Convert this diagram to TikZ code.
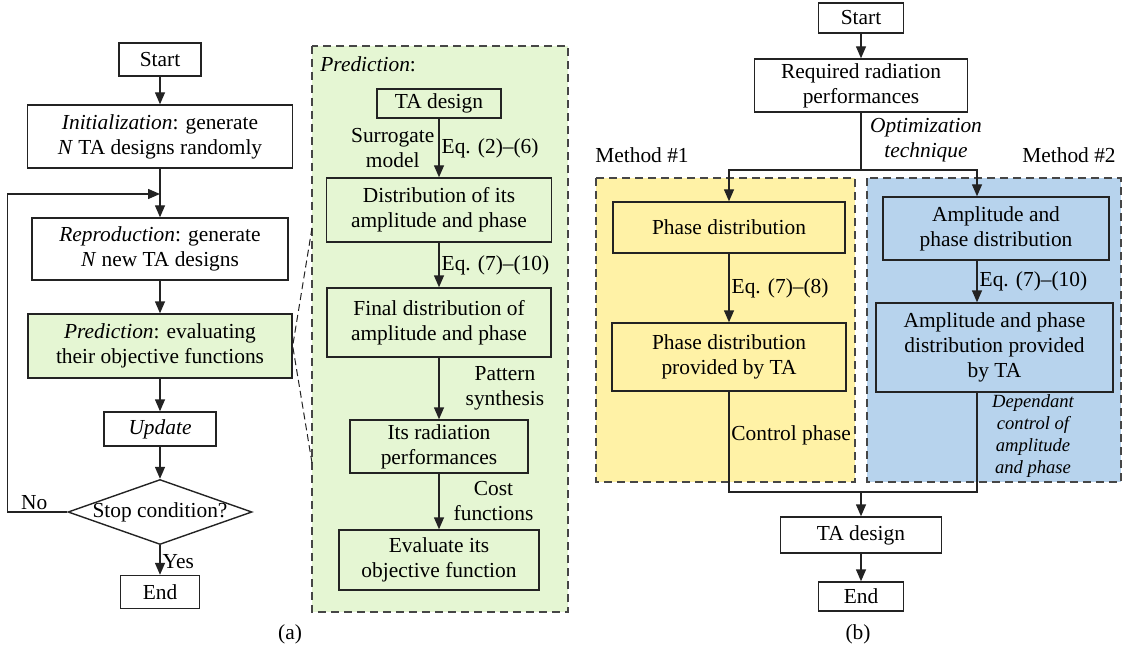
\documentclass[tikz,border=0pt]{standalone}
\usepackage{fontspec}
\setmainfont{Liberation Serif}
\usepackage{tikz}
\usetikzlibrary{arrows.meta, positioning, calc, shapes.geometric}
\definecolor{PredGreen}{RGB}{229, 246, 211}
\definecolor{MethYellow}{RGB}{255, 242, 166}
\definecolor{MethBlue}{RGB}{183, 211, 237}
\definecolor{LineDark}{RGB}{35, 35, 35}
\definecolor{DashGray}{RGB}{70, 70, 70}
\newcommand{\boxfont}{\fontsize{10.7}{12.5}\selectfont}
\newcommand{\notefont}{\fontsize{9.3}{11}\selectfont}

\tikzset{
  blk/.style={draw=LineDark, line width=0.7pt, align=center, inner sep=2pt, font=\boxfont},
  sz/.style 2 args={minimum width=#1*0.5pt, minimum height=#2*0.5pt},
  arr/.style={draw=LineDark, line width=0.7pt, -{Triangle[length=6pt,width=5pt]}},
  ln/.style={draw=LineDark, line width=0.7pt},
  lbl/.style={align=center, inner sep=1pt, font=\boxfont},
  panel/.style={draw=DashGray, line width=0.7pt, dash pattern=on 4pt off 2.5pt},
  zoomln/.style={draw=LineDark, line width=0.5pt, dash pattern=on 3.5pt off 2pt}
}

\begin{document}
\begin{tikzpicture}[x=0.5pt, y=-0.5pt]
\useasboundingbox (0,0) rectangle (1123,652);

% (a) genetic loop
\node[blk, sz={82}{33}] (starta) at (160,59.5) {Start};
\node[blk, sz={265}{63}] (init) at (160,136.5) {\textit{Initialization}: generate\\\textit{N} TA designs randomly};
\node[blk, sz={256}{62}] (repro) at (160,249) {\textit{Reproduction}: generate\\\textit{N} new TA designs};
\node[blk, sz={264}{64}, fill=PredGreen] (pred) at (160,346) {\textit{Prediction}: evaluating\\their objective functions};
\node[blk, sz={112}{34}] (upd) at (160,429) {\textit{Update}};
\node[blk, diamond, sz={184}{65}, inner sep=0pt,
      label={[lbl]center:Stop condition?}] (stop) at (160,512) {};
\node[blk, sz={79}{33}] (enda) at (160,592) {End};
\coordinate (loop) at (160,194);

\draw[arr] (starta) -- (init);
\draw[arr] (init) -- (repro);
\draw[arr] (repro) -- (pred);
\draw[arr] (pred) -- (upd);
\draw[arr] (upd) -- (stop);
\draw[arr] (stop) -- node[lbl, right, yshift=-1pt] {Yes} (enda);
\draw[arr] (stop.west) -- ++(-60,0) node[lbl, pos=0.55, above] {No} |- (loop);

% zoom on prediction
\draw[panel, fill=PredGreen] (312,46) rectangle (568,612);
\node[lbl, anchor=west] (predttl) at (318,64) {\textit{Prediction}:};
\node[blk, sz={124}{29}, fill=PredGreen] (tad) at (439,103.5) {TA design};
\node[blk, sz={225}{64}, fill=PredGreen] (dist) at (439,210) {Distribution of its\\amplitude and phase};
\node[blk, sz={224}{69}, fill=PredGreen] (fdist) at (439,322.5) {Final distribution of\\amplitude and phase};
\node[blk, sz={178}{53}, fill=PredGreen] (rad) at (439,446.5) {Its radiation\\performances};
\node[blk, sz={200}{60}, fill=PredGreen] (eval) at (439,560) {Evaluate its\\objective function};

\draw[arr] (tad) -- (dist)
  node[lbl, midway, right] {Eq. (2)--(6)}
  node[lbl, midway, left, xshift=-1pt] {Surrogate\\model};
\draw[arr] (dist) -- node[lbl, right] {Eq. (7)--(10)} (fdist);
\draw[arr] (fdist) -- node[lbl, right, xshift=12pt] {Pattern\\synthesis} (rad);
\draw[arr] (rad) -- node[lbl, right, xshift=6pt] {Cost\\functions} (eval);

\coordinate (zt) at (312,228);
\coordinate (zb) at (312,463);
\draw[zoomln] (zt) -- (pred.east) -- (zb);

\node[lbl] (capa) at (290,634) {(a)};

% (b) two methods
\draw[panel, fill=MethYellow] (596,178) rectangle (855,482);
\draw[panel, fill=MethBlue] (867,178) rectangle (1121,482);

\node[blk, sz={85}{30}] (startb) at (861,18) {Start};
\node[blk, sz={213}{53}] (req) at (861,85.5) {Required radiation\\performances};
\node[lbl, font=\boxfont\itshape] (opt) at (926,140) {Optimization\\technique};
\node[lbl] (m1) at (642,155) {Method \#1};
\node[lbl] (m2) at (1069,155) {Method \#2};
\node[blk, sz={232}{51}, fill=MethYellow] (phd) at (729,227.5) {Phase distribution};
\node[blk, sz={234}{68}, fill=MethYellow] (phta) at (729,357) {Phase distribution\\provided by TA};
\node[blk, sz={226}{63}, fill=MethBlue] (apd) at (996,228.5) {Amplitude and\\phase distribution};
\node[blk, sz={237}{89}, fill=MethBlue] (apta) at (994.5,347.5) {Amplitude and phase\\distribution provided\\by TA};
\node[lbl, anchor=west] (ctrl) at (729,435) {Control phase};
\node[lbl, font=\notefont\itshape] (dep) at (1033,436) {Dependant\\control of\\amplitude\\and phase};
\node[blk, sz={161}{36}] (tadb) at (861,535) {TA design};
\node[blk, sz={85}{29}] (endb) at (861,596.5) {End};

\coordinate (br) at (861,170);
\coordinate (c2) at (977,170);
\coordinate (mrg) at (861,492);

\draw[arr] (startb) -- (req);
\draw[ln] (req) -- (br);
\draw[arr] (br) -| (phd);
\draw[arr] (br) -- (c2) -- (c2 |- apd.north);
\draw[arr] (phd) -- node[lbl, right] {Eq. (7)--(8)} (phta);
\draw[arr] (c2 |- apd.south) -- node[lbl, right] {Eq. (7)--(10)} (c2 |- apta.north);
\draw[ln] (phta) |- (mrg) -| (c2 |- apta.south);
\draw[arr] (mrg) -- (tadb);
\draw[arr] (tadb) -- (endb);

\node[lbl] (capb) at (858,634) {(b)};
\end{tikzpicture}
\end{document}
